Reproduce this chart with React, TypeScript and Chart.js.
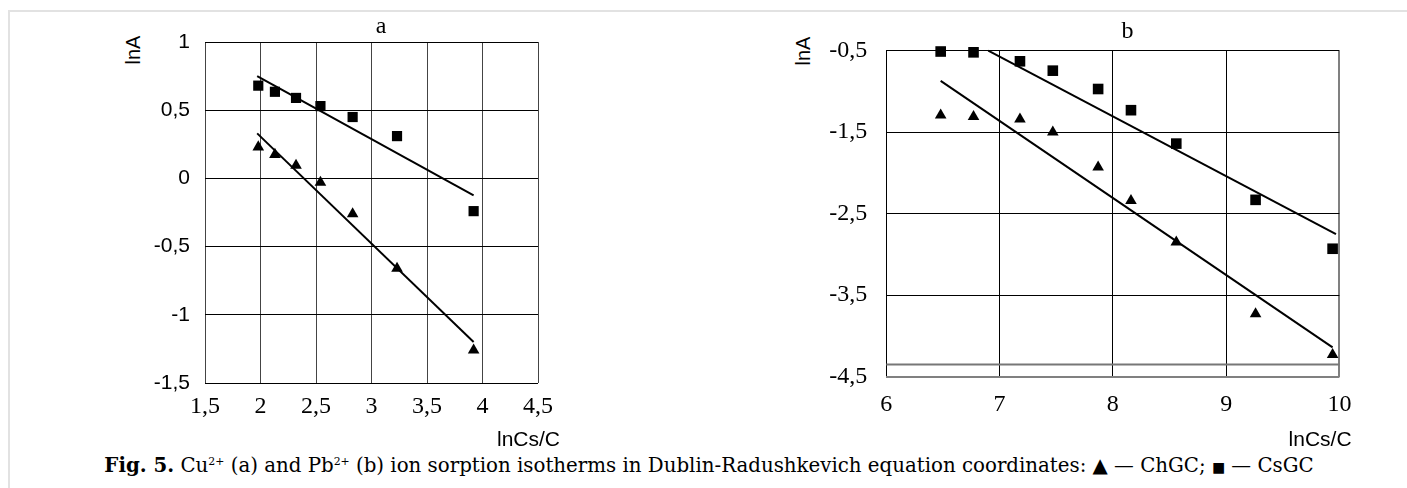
import React, { useEffect, useRef } from 'react';
import { Chart, registerables } from 'chart.js';
Chart.register(...registerables);

// ---- Panel a: Cu2+ ----
const cuX = [1.98, 2.13, 2.32, 2.54, 2.83, 3.23, 3.92];
const cuChGC = [0.23, 0.175, 0.095, -0.03, -0.26, -0.66, -1.26];
const cuCsGC = [0.68, 0.635, 0.59, 0.53, 0.45, 0.31, -0.24];
const cuFitX = [1.97, 3.92];
const cuChGCFit = [0.33, -1.2];
const cuCsGCFit = [0.75, -0.125];
const cuXTicks = [1.5, 2, 2.5, 3, 3.5, 4, 4.5];
const cuYTicks = [-1.5, -1, -0.5, 0, 0.5, 1];

// ---- Panel b: Pb2+ ----
const pbX = [6.48, 6.77, 7.18, 7.47, 7.87, 8.16, 8.56, 9.26, 9.94];
const pbChGC = [-1.29, -1.31, -1.34, -1.5, -1.93, -2.34, -2.85, -3.73, -4.23];
const pbCsGC = [-0.51, -0.52, -0.63, -0.745, -0.97, -1.23, -1.64, -2.33, -2.93];
const pbChGCFitX = [6.48, 9.94];
const pbChGCFit = [-0.87, -4.14];
const pbCsGCFitX = [6.9, 9.97];
const pbCsGCFit = [-0.5, -2.75];
const pbBaseX = [6, 10];
const pbBaseY = [-4.35, -4.35];
const pbXTicks = [6, 7, 8, 9, 10];
const pbYTicks = [-4.5, -3.5, -2.5, -1.5, -0.5];

const fmt = (v: number) => String(v).replace('.', ',');
const pts = (xs: number[], ys: number[]) => xs.map((x, i) => ({ x, y: ys[i] }));

const markers = (xs: number[], ys: number[], style: string, r: number) => ({
  data: pts(xs, ys),
  pointStyle: style,
  pointRadius: r,
  pointHoverRadius: r,
  backgroundColor: '#000',
  borderColor: '#000',
  borderWidth: 0,
  showLine: false,
  clip: false,
});
const fitLine = (xs: number[], ys: number[], color = '#000', w = 2) => ({
  data: pts(xs, ys),
  showLine: true,
  pointRadius: 0,
  borderColor: color,
  borderWidth: w,
  backgroundColor: color,
  clip: false,
});

type PanelProps = {
  left: number; top: number; width: number; height: number;
  pad: { left: number; right: number; top: number; bottom: number };
  yW: number; xH: number;
  datasets: any[];
  xTicks: number[]; yTicks: number[];
  xFont: any; yFont: any; xPad: number; yPad: number;
  xGrid: (v: number) => [string, number];
  yGrid: (v: number) => [string, number];
};

function Panel(p: PanelProps) {
  const ref = useRef<HTMLCanvasElement | null>(null);
  useEffect(() => {
    if (!ref.current) return;
    const chart = new Chart(ref.current, {
      type: 'scatter',
      data: { datasets: p.datasets },
      options: {
        animation: false,
        responsive: false,
        devicePixelRatio: 1,
        layout: { padding: p.pad },
        plugins: { legend: { display: false }, tooltip: { enabled: false }, title: { display: false } },
        scales: {
          x: {
            type: 'linear',
            min: p.xTicks[0],
            max: p.xTicks[p.xTicks.length - 1],
            afterBuildTicks: (s: any) => { s.ticks = p.xTicks.map((value) => ({ value })); },
            afterFit: (s: any) => { s.height = p.xH; s.paddingLeft = 0; s.paddingRight = 0; },
            ticks: { callback: (v: any) => fmt(Number(v)), font: p.xFont, color: '#000', padding: p.xPad, maxRotation: 0, autoSkip: false },
            grid: {
              drawTicks: false,
              color: (c: any) => p.xGrid(c.tick ? c.tick.value : 0)[0],
              lineWidth: (c: any) => p.xGrid(c.tick ? c.tick.value : 0)[1],
            },
            border: { display: false },
          },
          y: {
            type: 'linear',
            min: p.yTicks[0],
            max: p.yTicks[p.yTicks.length - 1],
            afterBuildTicks: (s: any) => { s.ticks = p.yTicks.map((value) => ({ value })); },
            afterFit: (s: any) => { s.width = p.yW; s.paddingTop = 0; s.paddingBottom = 0; },
            ticks: { callback: (v: any) => fmt(Number(v)), font: p.yFont, color: '#000', padding: p.yPad, autoSkip: false },
            grid: {
              drawTicks: false,
              color: (c: any) => p.yGrid(c.tick ? c.tick.value : 0)[0],
              lineWidth: (c: any) => p.yGrid(c.tick ? c.tick.value : 0)[1],
            },
            border: { display: false },
          },
        },
      } as any,
    });
    let alive = true;
    const fonts: any = (document as any).fonts;
    if (fonts && fonts.load) {
      Promise.all([
        fonts.load('24px "Liberation Serif"'),
        fonts.load('21px "Liberation Sans"'),
      ]).then(() => { if (alive) chart.update(); }).catch(() => {});
    }
    return () => { alive = false; chart.destroy(); };
  }, []);
  return (
    <canvas
      ref={ref}
      width={p.width}
      height={p.height}
      style={{ position: 'absolute', left: p.left, top: p.top, width: p.width, height: p.height }}
    />
  );
}

const sans = '"Liberation Sans", Arial, sans-serif';
const serif = '"Liberation Serif", "Times New Roman", serif';

export default function App() {
  const abs: React.CSSProperties = { position: 'absolute', whiteSpace: 'nowrap', lineHeight: 1, color: '#000' };
  return (
    <div style={{ position: 'absolute', left: 0, top: 0, width: 1407, height: 488, background: '#fff', overflow: 'hidden' }}>
      <div style={{ position: 'absolute', left: 8, top: 10, width: 1407, height: 500, borderTop: '2px solid #e2e2e2', borderLeft: '2px solid #e2e2e2' }} />

      <Panel
        left={150} top={20} width={420} height={410}
        pad={{ left: 0, right: 32, top: 22, bottom: 0 }}
        yW={55} xH={47}
        datasets={[
          markers(cuX, cuCsGC, 'rect', 7.2),
          markers(cuX, cuChGC, 'triangle', 6.7),
          fitLine(cuFitX, cuCsGCFit),
          fitLine(cuFitX, cuChGCFit),
        ]}
        xTicks={cuXTicks} yTicks={cuYTicks}
        xFont={{ family: serif, size: 24 }} yFont={{ family: sans, size: 21 }}
        xPad={9} yPad={15}
        xGrid={() => ['#444', 1]}
        yGrid={() => ['#000', 1]}
      />

      <Panel
        left={820} top={20} width={540} height={410}
        pad={{ left: 0, right: 20.6, top: 30.7, bottom: 0 }}
        yW={66.3} xH={53.3}
        datasets={[
          markers(pbX, pbCsGC, 'rect', 7.5),
          markers(pbX, pbChGC, 'triangle', 6.7),
          fitLine(pbCsGCFitX, pbCsGCFit),
          fitLine(pbChGCFitX, pbChGCFit),
          fitLine(pbBaseX, pbBaseY, '#777', 2),
        ]}
        xTicks={pbXTicks} yTicks={pbYTicks}
        xFont={{ family: serif, size: 24 }} yFont={{ family: serif, size: 24 }}
        xPad={13.5} yPad={19}
        xGrid={(v) => (v === 10 ? ['#808080', 2] : ['#000', 1])}
        yGrid={(v) => (v === -4.5 ? ['#808080', 2] : ['#000', 1])}
      />

      <div style={{ ...abs, left: 381, top: 25, transform: 'translate(-50%,-50%)', fontFamily: serif, fontSize: 24 }}>a</div>
      <div style={{ ...abs, left: 1127.5, top: 30, transform: 'translate(-50%,-50%)', fontFamily: serif, fontSize: 24 }}>b</div>
      <div style={{ ...abs, left: 133, top: 50, transform: 'translate(-50%,-50%) rotate(-90deg)', fontFamily: sans, fontSize: 20 }}>lnA</div>
      <div style={{ ...abs, left: 803, top: 51, transform: 'translate(-50%,-50%) rotate(-90deg)', fontFamily: sans, fontSize: 20 }}>lnA</div>
      <div style={{ ...abs, left: 560, top: 438, transform: 'translate(-100%,-50%)', fontFamily: sans, fontSize: 21 }}>lnCs/C</div>
      <div style={{ ...abs, left: 1351.6, top: 438, transform: 'translate(-100%,-50%)', fontFamily: sans, fontSize: 21 }}>lnCs/C</div>

      <div style={{ ...abs, left: 709, top: 466, transform: 'translate(-50%,-50%)', fontFamily: '"DejaVu Serif", serif', fontSize: 19.8 }}>
        <b>Fig. 5.</b> Cu<sup style={{ fontSize: '0.55em' }}>2+</sup> (a) and Pb<sup style={{ fontSize: '0.55em' }}>2+</sup> (b) ion sorption isotherms in Dublin-Radushkevich equation coordinates: ▲ — ChGC; <span style={{ fontSize: '0.7em' }}>■</span> — CsGC
      </div>
    </div>
  );
}
